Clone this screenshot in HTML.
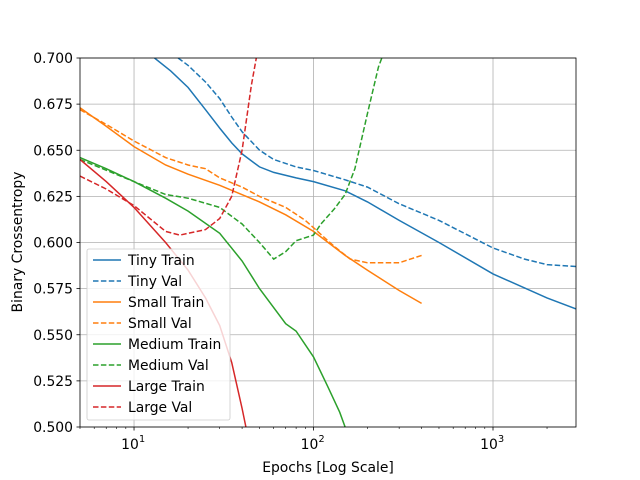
<!DOCTYPE html>
<html><head><meta charset="utf-8"><style>body{margin:0;background:#fff}svg{display:block;font-family:"DejaVu Sans","Liberation Sans",sans-serif}</style></head>
<body>
<svg id="c" width="640" height="480"></svg>
<script>
const tinyTrainX=[13,16,20,25,30,35,40,50,60,80,100,150,200,300,500,1000,2000,2900];
const tinyTrainY=[0.700,0.693,0.684,0.672,0.662,0.654,0.648,0.641,0.638,0.635,0.633,0.628,0.622,0.612,0.600,0.583,0.570,0.564];
const tinyValX=[17.6,20,25,30,35,40,50,60,80,100,150,200,300,500,1000,1500,2000,2900];
const tinyValY=[0.700,0.696,0.687,0.678,0.668,0.660,0.650,0.645,0.641,0.639,0.634,0.630,0.621,0.612,0.597,0.591,0.588,0.587];
const smallTrainX=[5,7,10,15,20,30,50,70,100,150,200,300,400];
const smallTrainY=[0.673,0.663,0.652,0.642,0.637,0.631,0.622,0.615,0.606,0.593,0.585,0.574,0.567];
const smallValX=[5,7,10,15,20,25,30,40,50,70,90,100,130,160,200,300,400];
const smallValY=[0.672,0.664,0.655,0.646,0.642,0.640,0.635,0.630,0.625,0.619,0.612,0.608,0.598,0.591,0.589,0.589,0.593];
const medTrainX=[5,7,10,15,20,30,40,50,70,80,100,120,140,150];
const medTrainY=[0.646,0.640,0.633,0.624,0.617,0.605,0.590,0.575,0.556,0.552,0.538,0.522,0.508,0.500];
const medValX=[5,10,15,20,30,40,50,60,70,80,100,110,130,150,170,200,230,240];
const medValY=[0.645,0.633,0.626,0.624,0.619,0.610,0.600,0.591,0.595,0.601,0.604,0.610,0.618,0.626,0.640,0.670,0.695,0.700];
const largeTrainX=[5,7,10,15,20,25,30,35,40,42];
const largeTrainY=[0.645,0.633,0.619,0.600,0.585,0.570,0.555,0.535,0.510,0.500];
const largeValX=[5,7,10,15,18,25,30,35,40,45,48];
const largeValY=[0.636,0.629,0.620,0.606,0.604,0.607,0.613,0.625,0.650,0.685,0.700];
const yTicks=[0.500,0.525,0.550,0.575,0.600,0.625,0.650,0.675,0.700];
const xTicks=[1,2,3];
const seriesNames=["Tiny Train","Tiny Val","Small Train","Small Val","Medium Train","Medium Val","Large Train","Large Val"];

const L=80,R=576,T=58,B=427,xmin=Math.log10(5),xmax=Math.log10(2900),ymin=0.5,ymax=0.7;
const FS=13.9;
const sx=v=>L+(Math.log10(v)-xmin)/(xmax-xmin)*(R-L);
const sy=v=>B-(v-ymin)/(ymax-ymin)*(B-T);
const svg=document.getElementById('c');const NS='http://www.w3.org/2000/svg';
function mk(t,a,p){const e=document.createElementNS(NS,t);for(const k in a)e.setAttribute(k,a[k]);(p||svg).appendChild(e);return e;}
const defs=mk('defs',{});const cp=mk('clipPath',{id:'cp'},defs);mk('rect',{x:L,y:T,width:R-L,height:B-T},cp);
const grid=mk('g',{});


yTicks.forEach(v=>{const y=sy(v);mk('line',{x1:L,x2:R,y1:y,y2:y,stroke:'#b0b0b0','stroke-width':0.8},grid);
mk('line',{x1:L-3.5,x2:L,y1:y,y2:y,stroke:'#000','stroke-width':0.8});
const t=mk('text',{x:L-7,y:y+5,'text-anchor':'end','font-size':FS});t.textContent=v.toFixed(3);

});
xTicks.forEach(p=>{const x=sx(Math.pow(10,p));mk('line',{x1:x,x2:x,y1:T,y2:B,stroke:'#b0b0b0','stroke-width':0.8},grid);
mk('line',{x1:x,x2:x,y1:B,y2:B+3.5,stroke:'#000','stroke-width':0.8});
const t=mk('text',{x:x-4,y:B+22,'text-anchor':'middle','font-size':FS});t.textContent='10';


const s=mk('text',{x:x+5,y:B+15,'font-size':9.7});s.textContent=p;});
for(let d=0;d<4;d++)for(let m=2;m<10;m++){const v=m*Math.pow(10,d);if(v<5||v>2900)continue;const x=sx(v);mk('line',{x1:x,x2:x,y1:B,y2:B+2,stroke:'#000','stroke-width':0.6});}
const colors=['#1f77b4','#1f77b4','#ff7f0e','#ff7f0e','#2ca02c','#2ca02c','#d62728','#d62728'];
const xs=[tinyTrainX,tinyValX,smallTrainX,smallValX,medTrainX,medValX,largeTrainX,largeValX];
const ys=[tinyTrainY,tinyValY,smallTrainY,smallValY,medTrainY,medValY,largeTrainY,largeValY];
const lg=mk('g',{'clip-path':'url(#cp)'});
xs.forEach((X,i)=>{const d=X.map((x,j)=>(j?'L':'M')+sx(x).toFixed(1)+','+sy(ys[i][j]).toFixed(1)).join('');
const p=mk('path',{d:d,fill:'none',stroke:colors[i],'stroke-width':1.5,'stroke-dasharray':i%2?'5.5,2.4':'none'},lg);

});
mk('rect',{x:L,y:T,width:R-L,height:B-T,fill:'none',stroke:'#000','stroke-width':0.8});
const leg=mk('g',{});


mk('rect',{x:87,y:249,width:143,height:171,rx:2,fill:'#fff','fill-opacity':0.8,stroke:'#ccc','stroke-width':0.8},leg);
seriesNames.forEach((n,i)=>{const y=260+i*21;mk('line',{x1:93,x2:121,y1:y,y2:y,stroke:colors[i],'stroke-width':1.5,'stroke-dasharray':i%2?'5.5,2.4':'none'},leg);
const t=mk('text',{x:128,y:y+5,'font-size':FS},leg);t.textContent=n;

});
const xl=mk('text',{x:(L+R)/2,y:472,'text-anchor':'middle','font-size':FS});xl.textContent='Epochs [Log Scale]';


const yl=mk('text',{x:0,y:0,'text-anchor':'middle','font-size':FS,transform:'translate(22,242) rotate(-90)'});yl.textContent='Binary Crossentropy';


</script>
</body></html>
